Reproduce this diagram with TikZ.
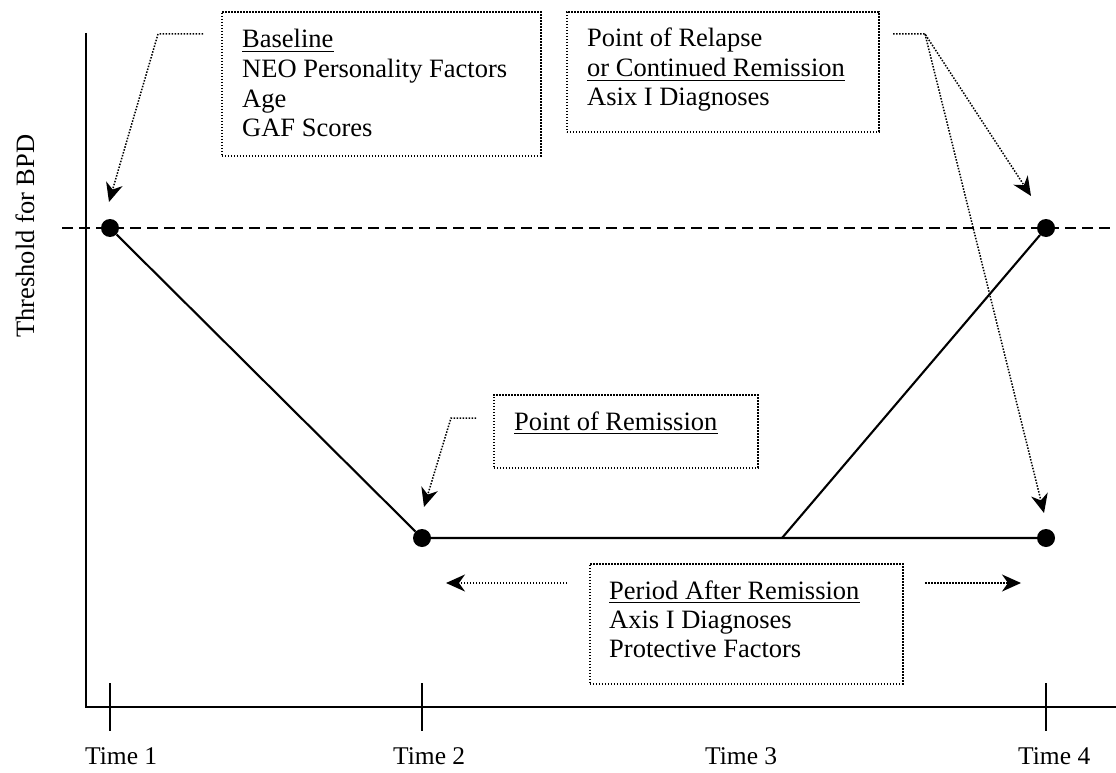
\documentclass[tikz,border=0pt]{standalone}
\usepackage{fontspec}
\setmainfont{Liberation Serif}
\usetikzlibrary{arrows.meta,calc}
\begin{document}
\begin{tikzpicture}[x=1pt,y=-1pt,
  txt/.style={font=\fontsize{26.5}{30}\selectfont, inner sep=0pt, anchor=base west},
  ttxt/.style={font=\fontsize{25.5}{30}\selectfont, inner sep=0pt, anchor=base west},
  dbox/.style={draw, line width=1.6pt, dash pattern=on 1.6pt off 1.4pt, anchor=north west, inner sep=0pt},
  ptr/.style={line width=1.5pt, dash pattern=on 1.5pt off 1.5pt, -{Stealth[length=19pt,width=17pt,inset=6pt]}},
  ul/.style={line width=1.7pt},
  dotn/.style={circle, fill, inner sep=0pt, minimum size=18pt},
  axisline/.style={line width=2.3pt},
  curve/.style={line width=2.1pt},
  thr/.style={line width=2.1pt, dash pattern=on 11pt off 6pt},
  tickline/.style={line width=2pt}
]
\useasboundingbox (0,0) rectangle (1116,773);

% axes
\coordinate (O) at (86,707);
\coordinate (Ytop) at (86,33);
\coordinate (Xend) at (1116,707);
\draw[axisline] (Ytop) -- (O) -- (Xend);
\foreach \x/\n in {110/t1,422/t2,1046/t4}{
  \coordinate (\n a) at (\x,683);
  \coordinate (\n b) at (\x,731);
  \draw[tickline] (\n a) -- (\n b);
}
\node[ttxt] (time1) at (85,764) {Time 1};
\node[ttxt] (time2) at (393,764) {Time 2};
\node[ttxt] (time3) at (705,764) {Time 3};
\node[ttxt] (time4) at (1018,764) {Time 4};

% threshold
\coordinate (thL) at (62,228);
\coordinate (thR) at (1116,228);
\draw[thr] (thL) -- (thR);
\node[txt, rotate=90] (thrlab) at (34,338) {Threshold for BPD};

% dots and trajectory
\node[dotn] (dA) at (110,228) {};
\node[dotn] (dB) at (422,538) {};
\node[dotn] (dC) at (1046,228) {};
\node[dotn] (dD) at (1046,538) {};
\coordinate (J) at (782,538);
\draw[curve] (dA) -- (dB) -- (dD);
\draw[curve] (J) -- (dC);

% Baseline box
\node[dbox, minimum width=319pt, minimum height=144pt] (boxbase) at (221,11) {};
\node[txt] (bl1) at (242,48) {Baseline};
\node[txt] (bl2) at (242,78) {NEO Personality Factors};
\node[txt] (bl3) at (242,108) {Age};
\node[txt] (bl4) at (242,137) {GAF Scores};
\draw[ul] ([yshift=-3.5pt]bl1.base west) -- ([yshift=-3.5pt]bl1.base east);

% Relapse box
\node[dbox, minimum width=312pt, minimum height=120pt] (boxrel) at (566,11) {};
\node[txt] (rl1) at (587,47) {Point of Relapse};
\node[txt] (rl2) at (587,77) {or Continued Remission};
\node[txt] (rl3) at (587,106) {Asix I Diagnoses};
\draw[ul] ([yshift=-3.5pt]rl2.base west) -- ([yshift=-3.5pt]rl2.base east);

% Remission box
\node[dbox, minimum width=264pt, minimum height=73pt] (boxrem) at (493,394) {};
\node[txt] (rm1) at (514,430) {Point of Remission};
\draw[ul] ([yshift=-3.5pt]rm1.base west) -- ([yshift=-3.5pt]rm1.base east);

% Period box
\node[dbox, minimum width=313pt, minimum height=120pt] (boxper) at (589,563) {};
\node[txt] (pr1) at (609,599) {Period After Remission};
\node[txt] (pr2) at (609,628) {Axis I Diagnoses};
\node[txt] (pr3) at (609,657) {Protective Factors};
\draw[ul] ([yshift=-3.5pt]pr1.base west) -- ([yshift=-3.5pt]pr1.base east);

% pointers
\coordinate (a1) at (203,34);
\coordinate (a2) at (158,34);
\coordinate (a3) at (109,202);
\draw[ptr] (a1) -- (a2) -- (a3);

\coordinate (m1) at (476,418);
\coordinate (m2) at (451,418);
\coordinate (m3) at (424,507);
\draw[ptr] (m1) -- (m2) -- (m3);

\coordinate (r1) at (893,34);
\coordinate (r2) at (925,34);
\coordinate (r3) at (1031,196);
\coordinate (r4) at (1044,513);
\draw[ptr] (r1) -- (r2) -- (r3);
\draw[ptr] (r2) -- (r4);

\coordinate (p1) at (567,583);
\coordinate (p2) at (446,583);
\coordinate (p3) at (925,583);
\coordinate (p4) at (1021,583);
\draw[ptr] (p1) -- (p2);
\draw[ptr] (p3) -- (p4);
\end{tikzpicture}
\end{document}
